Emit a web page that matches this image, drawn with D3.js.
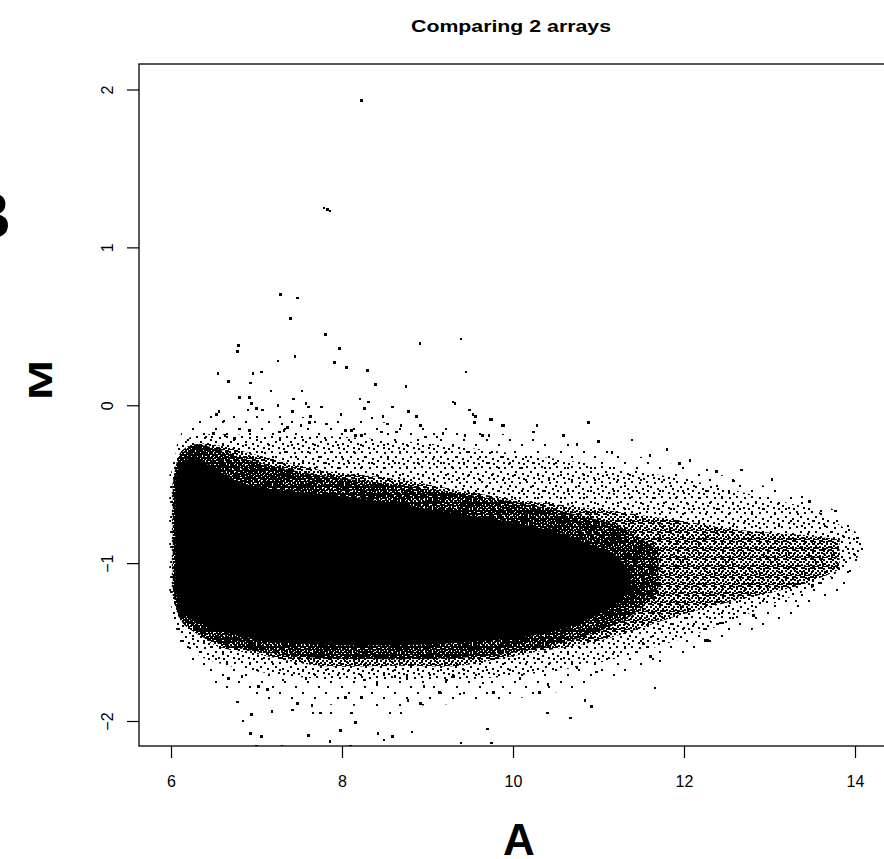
<!DOCTYPE html>
<html><head><meta charset="utf-8">
<script src="https://cdn.jsdelivr.net/npm/d3@7"></script>
<style>body{margin:0;background:#fff}svg{display:block}</style>
</head><body>
<svg id="c" width="884" height="859"></svg>
<script>
// ---- data (A = average log intensity, M = log ratio) ----
const xTicks = [6, 8, 10, 12, 14];
const yTicks = [-2, -1, 0, 1, 2];
const yTickLabels = ["\u22122", "\u22121", "0", "1", "2"];

// solid core of the point cloud (envelope)
const coreA     = [6.05, 6.11, 6.22, 6.34, 6.51, 6.81, 7.16, 7.51, 8.21, 9.15, 10.08, 10.55, 10.90, 11.20, 11.38];
const coreUpper = [-0.48, -0.37, -0.34, -0.35, -0.40, -0.49, -0.53, -0.55, -0.59, -0.67, -0.75, -0.81, -0.88, -0.95, -1.06];
const coreLower = [-1.16, -1.29, -1.35, -1.38, -1.42, -1.46, -1.50, -1.51, -1.52, -1.51, -1.47, -1.42, -1.35, -1.26, -1.16];

// inner dense fringe
const innerA     = [6.02, 6.11, 6.25, 6.50, 7.00, 7.70, 8.60, 9.40, 10.10, 10.80, 11.30, 11.70];
const innerUpper = [-0.50, -0.30, -0.25, -0.27, -0.36, -0.44, -0.50, -0.56, -0.62, -0.70, -0.78, -0.92];
const innerLower = [-1.16, -1.36, -1.43, -1.50, -1.56, -1.60, -1.61, -1.60, -1.56, -1.47, -1.36, -1.20];

// medium fringe
const denseA     = [6.01, 6.11, 6.28, 6.51, 7.04, 7.74, 8.68, 9.38, 10.08, 11.02, 11.95, 12.65, 13.36, 13.82];
const denseUpper = [-0.54, -0.32, -0.25, -0.25, -0.32, -0.41, -0.47, -0.54, -0.60, -0.66, -0.73, -0.79, -0.82, -0.85];
const denseLower = [-1.17, -1.36, -1.42, -1.52, -1.58, -1.65, -1.65, -1.65, -1.58, -1.49, -1.33, -1.23, -1.14, -1.04];

// sparse fringe
const sparseA     = [5.99, 6.11, 6.34, 7.04, 7.98, 9.15, 10.08, 11.02, 12.19, 12.89, 13.59, 14.06];
const sparseUpper = [-0.47, -0.24, -0.19, -0.19, -0.20, -0.25, -0.31, -0.38, -0.49, -0.58, -0.68, -0.86];
const sparseLower = [-1.23, -1.48, -1.59, -1.69, -1.74, -1.74, -1.71, -1.63, -1.44, -1.29, -1.13, -0.95];

// faint outer fringe
const faintA     = [5.98, 6.15, 6.40, 7.00, 8.00, 9.00, 10.00, 11.00, 12.00, 13.00, 13.80, 14.10];
const faintUpper = [-0.45, -0.15, -0.06, -0.06, -0.09, -0.13, -0.19, -0.27, -0.39, -0.52, -0.68, -0.88];
const faintLower = [-1.25, -1.55, -1.72, -1.85, -1.90, -1.90, -1.86, -1.76, -1.58, -1.38, -1.18, -0.98];

// isolated points
const outA = [8.23, 7.79, 7.83, 7.86, 7.28, 7.48, 7.40, 7.81, 7.97, 8.91, 9.39, 6.79, 6.78, 7.45, 7.25, 7.91, 8.05, 9.45, 8.30, 6.55,
  6.96, 7.06, 6.67, 6.93, 8.39, 8.75, 7.17, 7.53, 6.80, 6.92, 7.43, 8.21, 9.30, 6.94, 7.00, 6.90, 7.07, 7.25, 7.58, 7.61,
  7.76, 8.26, 8.31, 8.59, 6.56, 6.53, 7.42, 6.62, 7.63, 7.62, 7.99, 8.35, 8.48, 8.78, 8.87, 9.49, 9.56, 9.55, 9.74, 9.89,
  7.82, 8.53, 8.64, 7.36, 7.30, 7.52, 6.80, 6.92, 6.41, 6.50, 6.63, 6.74, 7.27, 7.32, 8.04, 8.11, 8.46, 8.16, 8.23, 8.69,
  8.92, 8.98, 9.11, 9.44, 9.64, 9.72,
  9.53, 9.55, 9.75, 10.28, 10.88, 9.87, 11.80, 11.95, 12.38, 12.58, 12.27, 11.00, 10.75, 9.32, 10.59, 10.24, 9.18, 9.44,
  12.67, 13.03, 13.38, 13.47, 13.77, 13.60, 13.93, 14.03, 14.08, 14.01, 13.79, 13.94, 13.50, 13.31, 12.81, 12.45, 12.25, 12.28,
  11.39, 11.60, 12.07, 11.16,
  6.78, 6.94, 7.18, 6.67, 6.83, 7.02, 7.13, 7.31, 7.48, 7.65, 7.66, 7.75, 7.87, 7.58, 8.04, 8.23, 8.26, 8.41, 8.56, 8.69,
  8.77, 8.92, 8.96, 9.14, 9.22, 9.31, 8.62, 8.76, 8.11, 7.42,
  6.93, 7.00, 7.30, 7.61, 7.86, 8.10, 8.49, 8.59, 8.82, 9.39, 9.75,
  6.84, 7.06, 7.98, 8.16, 8.42, 9.70, 10.40, 10.67, 10.84, 10.92, 11.66,
  11.72, 11.61, 11.52, 12.26, 12.42, 10.41, 10.31, 10.08, 9.77, 9.38, 9.65, 10.98, 10.75];
const outM = [1.93, 1.25, 1.24, 1.23, 0.70, 0.68, 0.55, 0.45, 0.36, 0.39, 0.42, 0.38, 0.34, 0.31, 0.28, 0.27, 0.24, 0.21, 0.22, 0.20,
  0.20, 0.21, 0.15, 0.14, 0.13, 0.12, 0.09, 0.09, 0.05, 0.05, 0.04, 0.04, 0.02, 0.01, -0.02, -0.03, -0.03, 0.00, 0.01, -0.01,
  -0.01, -0.02, 0.02, -0.01, -0.04, -0.06, -0.04, -0.10, -0.07, -0.11, -0.06, -0.08, -0.07, -0.04, -0.07, -0.03, -0.07, -0.11, -0.09, -0.13,
  -0.12, -0.12, -0.17, -0.14, -0.12, -0.13, -0.15, -0.16, -0.20, -0.18, -0.19, -0.21, -0.17, -0.16, -0.16, -0.16, -0.17, -0.19, -0.19, -0.13,
  -0.13, -0.20, -0.20, -0.19, -0.19, -0.19,
  -0.06, -0.11, -0.09, -0.13, -0.11, -0.13, -0.28, -0.37, -0.42, -0.48, -0.41, -0.23, -0.25, 0.01, -0.19, -0.17, -0.18, -0.19,
  -0.41, -0.47, -0.58, -0.61, -0.67, -0.67, -0.79, -0.84, -0.91, -0.98, -1.00, -1.05, -1.14, -1.24, -1.33, -1.38, -1.49, -1.49,
  -0.22, -0.32, -0.35, -0.30,
  -1.88, -1.96, -1.94, -1.73, -1.72, -1.78, -1.80, -1.74, -1.89, -1.90, -1.95, -1.95, -1.95, -1.73, -1.85, -1.85, -1.74, -1.77, -1.95, -1.95,
  -1.87, -1.89, -1.78, -1.82, -1.74, -1.72, -1.72, -1.73, -1.95, -1.93,
  -2.08, -2.16, -2.16, -2.09, -2.13, -2.16, -2.12, -2.10, -2.07, -2.14, -2.14,
  -2.00, -2.10, -2.06, -2.01, -2.08, -2.05, -1.95, -1.98, -1.87, -1.91, -1.79,
  -1.62, -1.59, -1.51, -1.49, -1.38, -1.77, -1.82, -1.73, -1.82, -1.83, -1.76, -1.69, -1.66];

const titleText = "Comparing 2 arrays";
const xLabel = "A", yLabel = "M", panelLabel = "B";

// ---- drawing ----
const svg = d3.select("#c");
const box = {left: 139, top: 64, right: 900, bottom: 746};
const x = d3.scaleLinear().domain([6, 14]).range([171, 855]);
const y = d3.scaleLinear().domain([-2, 2]).range([721, 89.5]);

const defs = svg.append("defs");
function pattern(id, size, dots) {
  const p = defs.append("pattern").attr("id", id).attr("patternUnits", "userSpaceOnUse")
    .attr("width", size).attr("height", size);
  dots.forEach(d => p.append("rect").attr("x", d[0]).attr("y", d[1]).attr("width", 2).attr("height", 2).attr("fill", "#000"));
}
pattern("faint", 23, [[3,2],[15,7],[8,14],[19,19]]);
pattern("sparse", 15, [[1,1],[9,2],[5,6],[12,8],[2,10],[8,12],[13,13]]);
pattern("medium", 9, [[0,0],[4,1],[7,3],[2,3],[5,5],[0,6],[3,7],[7,7],[2,0],[5,8]]);
pattern("inner", 8, [[0,0],[3,0],[6,1],[1,3],[4,2],[6,4],[2,5],[0,6],[4,6],[6,6],[1,1],[3,4]]);

const clip = defs.append("clipPath").attr("id", "plotclip");
clip.append("rect").attr("x", box.left).attr("y", box.top).attr("width", box.right - box.left).attr("height", box.bottom - box.top);

const g = svg.append("g").attr("clip-path", "url(#plotclip)").attr("shape-rendering", "crispEdges");

function band(A, up, lo, fill) {
  const data = A.map((a, i) => ({a, u: up[i], l: lo[i]}));
  const area = d3.area().x(d => x(d.a)).y0(d => y(d.l)).y1(d => y(d.u)).curve(d3.curveCatmullRom);
  g.append("path").datum(data).attr("d", area).attr("fill", fill).attr("shape-rendering", "auto");
}
band(faintA, faintUpper, faintLower, "url(#faint)");
band(sparseA, sparseUpper, sparseLower, "url(#sparse)");
band(denseA, denseUpper, denseLower, "url(#medium)");
band(innerA, innerUpper, innerLower, "url(#inner)");
band(coreA, coreUpper, coreLower, "#000");

const pts = outA.map((a, i) => ({a, m: outM[i]}));
g.selectAll("rect.pt").data(pts).join("rect").attr("class", "pt")
  .attr("x", d => x(d.a) - 1.3).attr("y", d => y(d.m) - 1.3)
  .attr("width", 2.6).attr("height", 2.6).attr("fill", "#000");

// frame
svg.append("rect").attr("x", box.left).attr("y", box.top)
  .attr("width", box.right - box.left).attr("height", box.bottom - box.top)
  .attr("fill", "none").attr("stroke", "#000").attr("stroke-width", 1.3);

const font = "'Liberation Sans', Arial, Helvetica, sans-serif";

// x axis
const xa = svg.append("g").attr("transform", `translate(0,${box.bottom})`)
  .call(d3.axisBottom(x).tickValues(xTicks).tickSize(12).tickPadding(18).tickFormat(d3.format("d")));
xa.select(".domain").remove();
xa.selectAll("line").attr("stroke", "#000").attr("stroke-width", 1.2);
xa.selectAll("text").attr("font-family", font).attr("font-size", 16).attr("fill", "#000");

// y axis
const ya = svg.append("g").attr("transform", `translate(${box.left},0)`)
  .call(d3.axisLeft(y).tickValues(yTicks).tickSize(12).tickFormat((d, i) => yTickLabels[i]));
ya.select(".domain").remove();
ya.selectAll("line").attr("stroke", "#000").attr("stroke-width", 1.2);
ya.selectAll("text").attr("font-family", font).attr("font-size", 16).attr("fill", "#000")
  .attr("transform", "rotate(-90)").attr("x", 0).attr("y", -26).attr("dy", 0)
  .attr("text-anchor", "middle");

// title & labels
svg.append("text").attr("x", 411).attr("y", 32).attr("font-family", font).attr("font-weight", "bold")
  .attr("font-size", 17).attr("textLength", 200).attr("lengthAdjust", "spacingAndGlyphs").text(titleText);
svg.append("text").attr("transform", "translate(52,380) rotate(-90)").attr("text-anchor", "middle")
  .attr("font-family", font).attr("font-weight", "bold").attr("font-size", 34)
  .attr("textLength", 40).attr("lengthAdjust", "spacingAndGlyphs").text(yLabel);
svg.append("text").attr("x", 519).attr("y", 855).attr("text-anchor", "middle")
  .attr("font-family", font).attr("font-weight", "bold").attr("font-size", 44).text(xLabel);
svg.append("text").attr("x", -36).attr("y", 238)
  .attr("font-family", font).attr("font-weight", "bold").attr("font-size", 65).text(panelLabel);
</script>
</body></html>
